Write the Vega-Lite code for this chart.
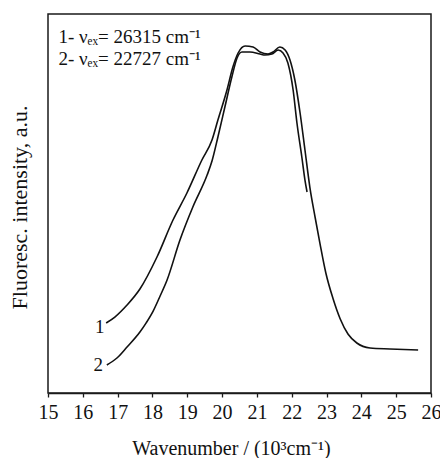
{
  "$schema": "https://vega.github.io/schema/vega-lite/v6.json",
  "width": 383,
  "height": 379,
  "autosize": {"type": "none"},
  "padding": {"left": 48, "top": 14, "right": 9, "bottom": 65},
  "background": "white",
  "config": {
    "view": {"stroke": "#1a1a1a", "strokeWidth": 1.5},
    "font": "Liberation Serif, Times New Roman, serif",
    "axis": {"domainColor": "#1a1a1a", "domainWidth": 1.5, "tickColor": "#1a1a1a", "labelColor": "#111", "titleColor": "#111", "grid": false, "labelFont": "Liberation Serif, Times New Roman, serif", "titleFont": "Liberation Serif, Times New Roman, serif", "titleFontWeight": "normal"}
  },
  "datasets": {
    "curves": [
      {"curve": "1", "x": 16.67, "y": 18.47},
      {"curve": "1", "x": 16.92, "y": 20.05},
      {"curve": "1", "x": 17.27, "y": 23.22},
      {"curve": "1", "x": 17.64, "y": 27.44},
      {"curve": "1", "x": 18.13, "y": 35.88},
      {"curve": "1", "x": 18.59, "y": 45.65},
      {"curve": "1", "x": 18.99, "y": 52.77},
      {"curve": "1", "x": 19.42, "y": 61.48},
      {"curve": "1", "x": 19.71, "y": 66.75},
      {"curve": "1", "x": 19.88, "y": 72.03},
      {"curve": "1", "x": 20.14, "y": 79.95},
      {"curve": "1", "x": 20.31, "y": 86.02},
      {"curve": "1", "x": 20.46, "y": 89.71},
      {"curve": "1", "x": 20.66, "y": 91.56},
      {"curve": "1", "x": 20.89, "y": 91.29},
      {"curve": "1", "x": 21.09, "y": 89.97},
      {"curve": "1", "x": 21.32, "y": 89.45},
      {"curve": "1", "x": 21.46, "y": 89.97},
      {"curve": "1", "x": 21.66, "y": 91.29},
      {"curve": "1", "x": 21.81, "y": 90.5},
      {"curve": "1", "x": 21.95, "y": 87.86},
      {"curve": "1", "x": 22.09, "y": 82.59},
      {"curve": "1", "x": 22.24, "y": 73.88},
      {"curve": "1", "x": 22.38, "y": 64.12},
      {"curve": "1", "x": 22.52, "y": 54.35},
      {"curve": "1", "x": 22.67, "y": 46.44},
      {"curve": "1", "x": 22.81, "y": 39.5},
      {"curve": "1", "x": 22.98, "y": 31.66},
      {"curve": "1", "x": 23.19, "y": 24.8},
      {"curve": "1", "x": 23.39, "y": 19.6},
      {"curve": "1", "x": 23.62, "y": 15.5},
      {"curve": "1", "x": 23.87, "y": 13.19},
      {"curve": "1", "x": 24.25, "y": 11.87},
      {"curve": "1", "x": 24.82, "y": 11.61},
      {"curve": "1", "x": 25.63, "y": 11.35},
      {"curve": "2", "x": 16.69, "y": 7.39},
      {"curve": "2", "x": 16.98, "y": 9.23},
      {"curve": "2", "x": 17.27, "y": 12.14},
      {"curve": "2", "x": 17.64, "y": 16.09},
      {"curve": "2", "x": 17.82, "y": 18.5},
      {"curve": "2", "x": 18.02, "y": 21.6},
      {"curve": "2", "x": 18.22, "y": 25.6},
      {"curve": "2", "x": 18.42, "y": 29.82},
      {"curve": "2", "x": 18.79, "y": 40.37},
      {"curve": "2", "x": 19.16, "y": 49.08},
      {"curve": "2", "x": 19.57, "y": 57.5},
      {"curve": "2", "x": 19.71, "y": 61.2},
      {"curve": "2", "x": 19.88, "y": 67.55},
      {"curve": "2", "x": 20.08, "y": 75.46},
      {"curve": "2", "x": 20.28, "y": 83.38},
      {"curve": "2", "x": 20.43, "y": 88.39},
      {"curve": "2", "x": 20.57, "y": 89.97},
      {"curve": "2", "x": 20.8, "y": 89.97},
      {"curve": "2", "x": 21.09, "y": 89.45},
      {"curve": "2", "x": 21.23, "y": 89.18},
      {"curve": "2", "x": 21.43, "y": 89.45},
      {"curve": "2", "x": 21.61, "y": 90.5},
      {"curve": "2", "x": 21.75, "y": 89.71},
      {"curve": "2", "x": 21.89, "y": 87.07},
      {"curve": "2", "x": 22.04, "y": 79.95},
      {"curve": "2", "x": 22.15, "y": 71.24},
      {"curve": "2", "x": 22.29, "y": 62.27},
      {"curve": "2", "x": 22.38, "y": 56.2},
      {"curve": "2", "x": 22.44, "y": 53.03}
    ],
    "labels": [
      {"x": 16.62, "y": 17.4, "text": "1"},
      {"x": 16.58, "y": 7.4, "text": "2"}
    ],
    "legend": [
      {"x": 15.3, "y": 92.35, "text": "1- νₑₓ= 26315 cm⁻¹"},
      {"x": 15.3, "y": 86.54, "text": "2- νₑₓ= 22727 cm⁻¹"}
    ]
  },
  "encoding": {
    "x": {
      "field": "x", "type": "quantitative",
      "scale": {"domain": [15, 26], "nice": false, "zero": false},
      "axis": {
        "values": [15, 16, 17, 18, 19, 20, 21, 22, 23, 24, 25, 26],
        "title": "Wavenumber / (10³cm⁻¹)",
        "labelFontSize": 20, "titleFontSize": 20,
        "tickSize": 4, "tickWidth": 1.3, "labelPadding": 5, "titlePadding": 16,
        "labelFlush": false, "labelOverlap": false, "titleX": 183
      }
    },
    "y": {
      "field": "y", "type": "quantitative",
      "scale": {"domain": [0, 100], "nice": false},
      "axis": {
        "title": "Fluoresc. intensity, a.u.",
        "labels": false, "ticks": false, "domain": false,
        "titleFontSize": 22, "titlePadding": 17, "titleY": 193
      }
    }
  },
  "layer": [
    {
      "data": {"name": "curves"},
      "mark": {"type": "line", "color": "#111", "strokeWidth": 1.6, "interpolate": "monotone"},
      "encoding": {"detail": {"field": "curve", "type": "nominal"}}
    },
    {
      "data": {"name": "labels"},
      "mark": {"type": "text", "align": "right", "baseline": "middle", "fontSize": 19, "color": "#111", "font": "Liberation Serif, Times New Roman, serif"},
      "encoding": {"text": {"field": "text", "type": "nominal"}}
    },
    {
      "data": {"name": "legend"},
      "mark": {"type": "text", "align": "left", "baseline": "alphabetic", "fontSize": 19, "color": "#111", "font": "Liberation Serif, Times New Roman, serif"},
      "encoding": {"text": {"field": "text", "type": "nominal"}}
    }
  ]
}
